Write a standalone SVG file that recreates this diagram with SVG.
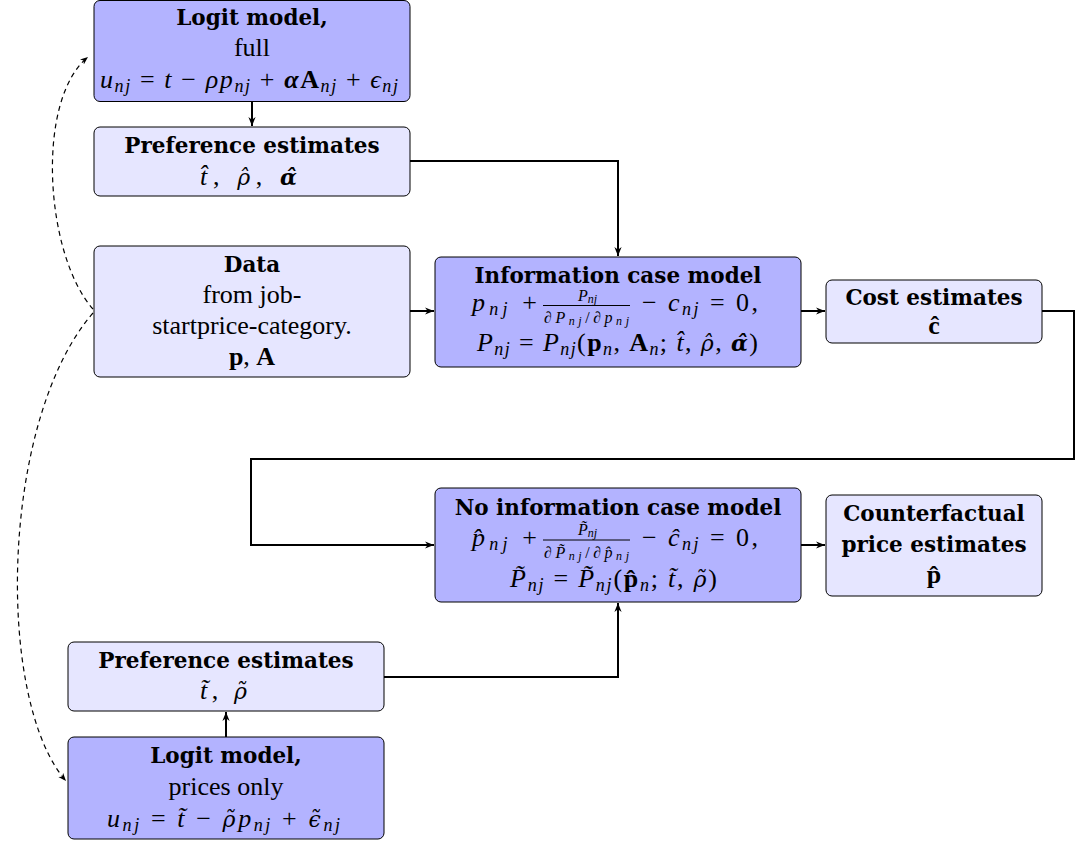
<svg xmlns="http://www.w3.org/2000/svg" width="1075" height="845" viewBox="0 0 1075 845">
<style>
text{font-family:"Liberation Serif","Times New Roman",serif;font-size:26px;fill:#000;text-anchor:middle}
.b{font-family:"DejaVu Serif","Liberation Serif",serif;font-weight:bold;font-size:21.5px}
.m{font-style:italic;font-size:26px}
.up{font-style:normal}
.bu{font-weight:bold;font-style:normal}
.bi{font-weight:bold;font-style:italic}
.g{font-family:"DejaVu Serif","Liberation Serif",serif;font-size:22px}
.sub{font-size:18px}
.fr{font-size:16px}
.fsub{font-size:12px}
.dk{fill:#b3b3ff;stroke:#000;stroke-width:1}
.lt{fill:#e6e6ff;stroke:#000;stroke-width:1}
.c{fill:none;stroke:#000;stroke-width:2}
.d{fill:none;stroke:#000;stroke-width:1.2;stroke-dasharray:5,4}
.e{text-anchor:end}
.s{text-anchor:start}
</style>
<defs>
<marker id="ah" viewBox="0 0 10 10" refX="10" refY="5" markerWidth="9" markerHeight="9" orient="auto" markerUnits="userSpaceOnUse"><path d="M0,1 L10,5 L0,9 L3,5 z" fill="#000"/></marker>
<marker id="ahs" viewBox="0 0 10 10" refX="10" refY="5" markerWidth="8" markerHeight="8" orient="auto" markerUnits="userSpaceOnUse"><path d="M0,1 L10,5 L0,9 L3,5 z" fill="#000"/></marker>
</defs>

<g id="connectors">
<path class="c" d="M252,102 V126" marker-end="url(#ah)"/>
<path class="c" d="M410,161 H618 V256" marker-end="url(#ah)"/>
<path class="c" d="M410,311 H434" marker-end="url(#ah)"/>
<path class="c" d="M801,311 H825" marker-end="url(#ah)"/>
<path class="c" d="M1042,311 H1074 V459 H251 V545 H434" marker-end="url(#ah)"/>
<path class="c" d="M801,545 H825" marker-end="url(#ah)"/>
<path class="c" d="M384,677 H618 V603" marker-end="url(#ah)"/>
<path class="c" d="M226,737 V712" marker-end="url(#ah)"/>
<path class="d" d="M93,309 C45,255 35,100 88,57" marker-end="url(#ahs)"/>
<path class="d" d="M93,313 C0,420 -5,700 66,781" marker-end="url(#ahs)"/>
</g>

<g id="logit-full">
<rect class="dk" x="94" y="0.5" width="316" height="101" rx="6"/>
<text class="b" x="252" y="25">Logit model,</text>
<text x="252" y="56">full</text>
<text class="m" x="249" y="88" textLength="298" lengthAdjust="spacing">u<tspan class="sub" dy="4">nj</tspan><tspan class="up" dy="-4"> = </tspan>t<tspan class="up"> − </tspan>ρp<tspan class="sub" dy="4">nj</tspan><tspan class="up" dy="-4"> + </tspan><tspan class="bi">α</tspan><tspan class="bu">A</tspan><tspan class="sub" dy="4">nj</tspan><tspan class="up" dy="-4"> + </tspan>ϵ<tspan class="sub" dy="4">nj</tspan></text>
</g>

<g id="pref-full">
<rect class="lt" x="94" y="127" width="316" height="69" rx="6"/>
<text class="b" x="252" y="153">Preference estimates</text>
<text class="m" x="248.5" y="185" textLength="97" lengthAdjust="spacing">t̂<tspan class="up">, </tspan><tspan class="g">ρ̂</tspan><tspan class="up">, </tspan><tspan class="g bi">α̂</tspan></text>
</g>

<g id="data">
<rect class="lt" x="94" y="246" width="316" height="131" rx="6"/>
<text class="b" x="252" y="272">Data</text>
<text x="252" y="303">from job-</text>
<text x="252" y="334">startprice-category.</text>
<text x="252" y="365"><tspan class="bu">p</tspan>, <tspan class="bu">A</tspan></text>
</g>

<g id="info-model">
<rect class="dk" x="435" y="257" width="366" height="110" rx="6"/>
<text class="b" x="618" y="283">Information case model</text>
<text class="m e" x="537" y="311" textLength="65" lengthAdjust="spacing">p<tspan class="sub" dy="4">nj</tspan><tspan class="up" dy="-4">  +</tspan></text>
<text class="m fr" x="587.5" y="301">P<tspan class="fsub" dy="2">nj</tspan></text>
<line x1="543" y1="305.5" x2="630" y2="305.5" stroke="#000" stroke-width="1"/>
<text class="m fr" x="586.5" y="323" textLength="85" lengthAdjust="spacing"><tspan class="up">∂</tspan>P<tspan class="fsub" dy="2">nj</tspan><tspan class="up" dy="-2">/∂</tspan>p<tspan class="fsub" dy="2">nj</tspan></text>
<text class="m s" x="642" y="311" textLength="116" lengthAdjust="spacing"><tspan class="up">− </tspan>c<tspan class="sub" dy="4">nj</tspan><tspan class="up" dy="-4">  =  0,</tspan></text>
<text class="m" x="617.5" y="351" textLength="281" lengthAdjust="spacing">P<tspan class="sub" dy="4">nj</tspan><tspan class="up" dy="-4">  =  </tspan>P<tspan class="sub" dy="4">nj</tspan><tspan class="up" dy="-4">(</tspan><tspan class="bu">p</tspan><tspan class="sub" dy="4">n</tspan><tspan class="up" dy="-4">, </tspan><tspan class="bu">A</tspan><tspan class="sub" dy="4">n</tspan><tspan class="up" dy="-4">; </tspan>t̂<tspan class="up">, </tspan><tspan class="g">ρ̂</tspan><tspan class="up">, </tspan><tspan class="g bi">α̂</tspan><tspan class="up">)</tspan></text>
</g>

<g id="cost">
<rect class="lt" x="826" y="280" width="216" height="63" rx="6"/>
<text class="b" x="934" y="305">Cost estimates</text>
<text class="bu" x="934" y="334">ĉ</text>
</g>

<g id="noinfo-model">
<rect class="dk" x="435" y="488" width="366" height="114" rx="6"/>
<text class="b" x="618" y="515">No information case model</text>
<text class="m e" x="537" y="546" textLength="65" lengthAdjust="spacing">p̂<tspan class="sub" dy="4">nj</tspan><tspan class="up" dy="-4">  +</tspan></text>
<text class="m fr" x="587.5" y="535">P̃<tspan class="fsub" dy="2">nj</tspan></text>
<line x1="543" y1="540" x2="630" y2="540" stroke="#000" stroke-width="1"/>
<text class="m fr" x="586.5" y="558" textLength="85" lengthAdjust="spacing"><tspan class="up">∂</tspan>P̃<tspan class="fsub" dy="2">nj</tspan><tspan class="up" dy="-2">/∂</tspan>p̂<tspan class="fsub" dy="2">nj</tspan></text>
<text class="m s" x="642" y="546" textLength="116" lengthAdjust="spacing"><tspan class="up">− </tspan>ĉ<tspan class="sub" dy="4">nj</tspan><tspan class="up" dy="-4">  =  0,</tspan></text>
<text class="m" x="613.5" y="587" textLength="207" lengthAdjust="spacing">P̃<tspan class="sub" dy="4">nj</tspan><tspan class="up" dy="-4">  =  </tspan>P̃<tspan class="sub" dy="4">nj</tspan><tspan class="up" dy="-4">(</tspan><tspan class="bu">p̂</tspan><tspan class="sub" dy="4">n</tspan><tspan class="up" dy="-4">; </tspan>t̃<tspan class="up">, </tspan><tspan class="g">ρ̃</tspan><tspan class="up">)</tspan></text>
</g>

<g id="counterfactual">
<rect class="lt" x="826" y="495" width="216" height="101" rx="6"/>
<text class="b" x="934" y="521">Counterfactual</text>
<text class="b" x="934" y="552">price estimates</text>
<text class="bu" x="934" y="583">p̂</text>
</g>

<g id="pref-prices">
<rect class="lt" x="68" y="642" width="316" height="69" rx="6"/>
<text class="b" x="226" y="668">Preference estimates</text>
<text class="m" x="223.5" y="699" textLength="47" lengthAdjust="spacing">t̃<tspan class="up">, </tspan><tspan class="g">ρ̃</tspan></text>
</g>

<g id="logit-prices">
<rect class="dk" x="68" y="737" width="316" height="102" rx="6"/>
<text class="b" x="226" y="763">Logit model,</text>
<text x="226" y="795">prices only</text>
<text class="m" x="223.5" y="827" textLength="233" lengthAdjust="spacing">u<tspan class="sub" dy="4">nj</tspan><tspan class="up" dy="-4">  =  </tspan>t̃<tspan class="up"> − </tspan><tspan class="g">ρ̃</tspan>p<tspan class="sub" dy="4">nj</tspan><tspan class="up" dy="-4"> + </tspan><tspan class="g">ϵ̃</tspan><tspan class="sub" dy="4">nj</tspan></text>
</g>
</svg>
